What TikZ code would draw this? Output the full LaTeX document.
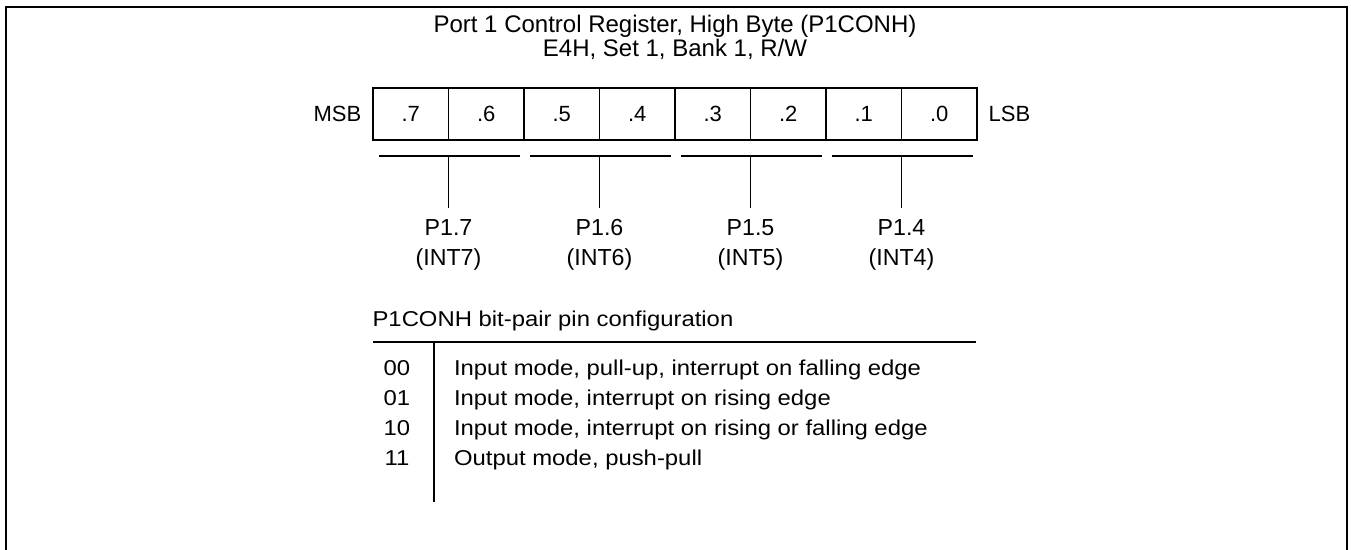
\documentclass[tikz,border=0pt]{standalone}
\usepackage{fontspec}
\setmainfont{Liberation Sans}
\newfontfamily\tablefont[FakeStretch=1.11]{Liberation Sans}
\usetikzlibrary{positioning}
\begin{document}
\begin{tikzpicture}[x=0.5pt, y=-0.5pt, font=\fontsize{11}{15}\selectfont,
    regline/.style={line width=0.65pt},
    bitcell/.style={draw, regline, minimum width=37.75pt, minimum height=26pt, inner sep=0pt},
    titletext/.style={font=\fontsize{12}{14}\selectfont, anchor=base},
    pintext/.style={font=\fontsize{11.6}{15}\selectfont, align=center},
    tabletext/.style={font=\tablefont\fontsize{10.75}{15}\selectfont}]
    \useasboundingbox (0,0) rectangle (1351,550);

    % Frame (open at the bottom)
    \draw[line width=1pt] (6,550) -- (6,7) -- (1347,7) -- (1347,550);

    % Title
    \node[titletext] (title1) at (675,33) {Port 1 Control Register, High Byte (P1CONH)};
    \node[titletext] (title2) at (675,57) {E4H, Set 1, Bank 1, R/W};

    % Register bits
    \foreach \b [count=\i from 0] in {7,6,...,0}
        \node[bitcell] (b\b) at (410.75+75.5*\i,114) {.\b};
    \node[left=2pt of b7] (msb) {MSB};
    \node[right=2pt of b0] (lsb) {LSB};

    % Bit-pair brackets and pins
    \foreach \p [count=\k from 0] in {7,6,5,4} {
        \draw[regline] (379+151*\k,156) -- (520+151*\k,156);
        \coordinate (m\p) at (448.5+151*\k,156);
        \coordinate (e\p) at (448.5+151*\k,208);
        \draw[regline] (m\p) -- (e\p);
        \node[pintext] (pin\p) at (448.5+151*\k,245) {P1.\p\\(INT\p)};
    }

    % Configuration table
    \node[tabletext, anchor=base west] (cfg) at (365.5,327) {P1CONH bit-pair pin configuration};
    \coordinate (hl) at (373,342);
    \coordinate (hr) at (976,342);
    \draw[regline] (hl) -- (hr);
    \coordinate (vt) at (434,342);
    \coordinate (vb) at (434,502);
    \draw[regline] (vt) -- (vb);
    \foreach \c/\t [count=\r from 0] in {00/{Input mode, pull-up, interrupt on falling edge},
        01/{Input mode, interrupt on rising edge},
        10/{Input mode, interrupt on rising or falling edge},
        11/{Output mode, push-pull}} {
        \node[tabletext, anchor=base] (c\c) at (397,376+30*\r) {\c};
        \node[tabletext, anchor=base west] (d\c) at (447,376+30*\r) {\t};
    }
\end{tikzpicture}
\end{document}
